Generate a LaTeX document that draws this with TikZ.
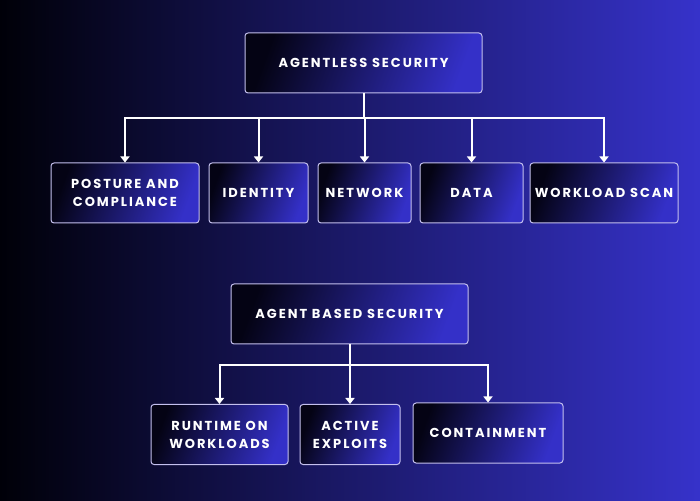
\documentclass[tikz,border=0pt]{standalone}
\usepackage{fontspec}
\setmainfont{Poppins}
\newfontfamily\boxfont[LetterSpace=15]{Poppins}
\usepackage{tikz}
\usetikzlibrary{arrows.meta, calc}
\definecolor{BgLeft}{RGB}{0,0,8}
\definecolor{BgMid}{RGB}{30,27,112}
\definecolor{BgRight}{RGB}{54,50,202}
\definecolor{BoxDark}{RGB}{4,3,20}
\definecolor{BoxBlue}{RGB}{52,48,200}
\definecolor{BoxEdge}{RGB}{196,192,238}

\begin{document}
\begin{tikzpicture}[x=1pt, y=1pt,
    catbox/.style={draw=BoxEdge, line width=1pt, rounded corners=3pt,
      left color=BoxDark, right color=BoxBlue, shading angle=70,
      text=white, align=center, inner sep=0pt, minimum height=60,
      font=\boxfont\bfseries\fontsize{13}{18}\selectfont},
    link/.style={draw=white, line width=2pt,
      -{Triangle[length=6pt, width=9pt]}}]
  % background
  \shade[left color=BgLeft, middle color=BgMid, right color=BgRight]
    (0,0) rectangle (700,500);
  \useasboundingbox (0,0) rectangle (700,500);

  % agentless tree
  \node[catbox, minimum width=237] (agentless) at (363.5,437) {AGENTLESS SECURITY};
  \node[catbox, minimum width=148] (posture)  at (125,307)   {POSTURE AND\\COMPLIANCE};
  \node[catbox, minimum width=99]  (identity) at (258.5,307) {IDENTITY};
  \node[catbox, minimum width=93]  (network)  at (364.5,307) {NETWORK};
  \node[catbox, minimum width=103] (data)     at (471.5,307) {DATA};
  \node[catbox, minimum width=148] (workload) at (604,307)   {WORKLOAD SCAN};
  \coordinate (bus1) at ($(agentless.south)+(0,-25)$);
  \foreach \kid in {posture, identity, network, data, workload}
    \draw[link] (agentless.south) -- (bus1) -| (\kid.north);

  % agent based tree
  \node[catbox, minimum width=237] (agent) at (349.5,186) {AGENT BASED SECURITY};
  \node[catbox, minimum width=137] (runtime) at (219.5,65.5) {RUNTIME ON\\WORKLOADS};
  \node[catbox, minimum width=100] (active)  at (350,65.5)   {ACTIVE\\EXPLOITS};
  \node[catbox, minimum width=150] (contain) at (488,67)     {CONTAINMENT};
  \coordinate (bus2) at ($(agent.south)+(0,-21)$);
  \foreach \kid in {runtime, active, contain}
    \draw[link] (agent.south) -- (bus2) -| (\kid.north);
\end{tikzpicture}
\end{document}
